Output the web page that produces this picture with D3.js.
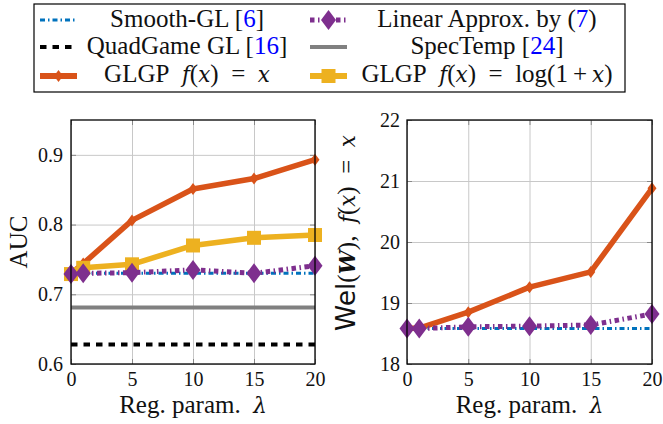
<!DOCTYPE html>
<html><head><meta charset="utf-8">
<script src="https://cdn.jsdelivr.net/npm/d3@7"></script>
<style>
html,body{margin:0;padding:0;background:#fff;}
svg{display:block;}
</style></head>
<body>
<svg id="chart" width="663" height="424"></svg>
<script>
// ---------- data ----------
const lambdas = [0, 1, 5, 10, 15, 20];
const xTicks = [0, 5, 10, 15, 20];
const aucTicks = [0.6, 0.7, 0.8, 0.9];
const welTicks = [18, 19, 20, 21, 22];

const aucSmoothGL     = [0.730, 0.730, 0.730, 0.730, 0.730, 0.730];
const aucLinearApprox = [0.729, 0.730, 0.731, 0.735, 0.730, 0.741];
const aucQuadGame     = [0.628, 0.628, 0.628, 0.628, 0.628, 0.628];
const aucSpecTemp     = [0.681, 0.681, 0.681, 0.681, 0.681, 0.681];
const aucGlgpLinear   = [0.730, 0.744, 0.806, 0.851, 0.866, 0.893];
const aucGlgpLog      = [0.729, 0.738, 0.743, 0.770, 0.781, 0.785];

const welSmoothGL     = [18.58, 18.58, 18.58, 18.58, 18.58, 18.58];
const welLinearApprox = [18.58, 18.58, 18.61, 18.62, 18.64, 18.82];
const welGlgpLinear   = [18.58, 18.59, 18.85, 19.26, 19.51, 20.88];

const C = {
  blue: "#0072BD", purple: "#7E2F8E", black: "#000000",
  gray: "#808080", orange: "#D95319", yellow: "#EDB120", link: "#0000FF"
};

const svg = d3.select("#chart");
const SERIF = '"Liberation Serif",serif';
const MATH = '"DejaVu Serif",serif';

function diamondPath(w, h) { return `M0,${-h}L${w},0L0,${h}L${-w},0Z`; }

// add text parts: [string, kind] kind: "" | "link" | "it" | "bi" | "sans"
function addParts(t, parts, size) {
  parts.forEach(([s, k]) => {
    const sp = t.append("tspan").text(s);
    if (k === "link") sp.attr("fill", C.link);
    if (k === "it") sp.style("font-family", MATH).style("font-style", "italic").attr("font-size", size * 0.86);
    if (k === "bi") sp.style("font-family", MATH).style("font-style", "italic").style("font-weight", "bold").attr("font-size", size * 0.86);
    if (k === "sans") sp.style("font-family", '"DejaVu Sans",sans-serif').attr("font-size", size * 1.06);
  });
}

function panel(opts) {
  const {x0, x1, y0, y1, yDomain, yTicks, yFmt, series} = opts;
  const x = d3.scaleLinear().domain([0, 20]).range([x0, x1]);
  const y = d3.scaleLinear().domain(yDomain).range([y1, y0]);
  const g = svg.append("g");
  const clean = a => a.select(".domain").remove();
  // grid
  g.append("g").attr("transform", `translate(0,${y1})`)
    .call(d3.axisBottom(x).tickValues(xTicks).tickSize(-(y1 - y0)).tickFormat(""))
    .call(clean).call(a => a.selectAll("line").attr("stroke", "#c8c8c8").attr("stroke-width", 1));
  g.append("g").attr("transform", `translate(${x0},0)`)
    .call(d3.axisLeft(y).tickValues(yTicks).tickSize(-(x1 - x0)).tickFormat(""))
    .call(clean).call(a => a.selectAll("line").attr("stroke", "#c8c8c8").attr("stroke-width", 1));
  // inner tick marks
  const tl = 5;
  const tk = a => a.selectAll("line").attr("stroke", "#888").attr("stroke-width", 1);
  g.append("g").attr("transform", `translate(0,${y1})`)
    .call(d3.axisBottom(x).tickValues(xTicks).tickSize(-tl).tickFormat("")).call(clean).call(tk);
  g.append("g").attr("transform", `translate(0,${y0})`)
    .call(d3.axisTop(x).tickValues(xTicks).tickSize(-tl).tickFormat("")).call(clean).call(tk);
  g.append("g").attr("transform", `translate(${x0},0)`)
    .call(d3.axisLeft(y).tickValues(yTicks).tickSize(-tl).tickFormat("")).call(clean).call(tk);
  g.append("g").attr("transform", `translate(${x1},0)`)
    .call(d3.axisRight(y).tickValues(yTicks).tickSize(-tl).tickFormat("")).call(clean).call(tk);
  // tick labels
  g.append("g").attr("transform", `translate(0,${y1})`)
    .call(d3.axisBottom(x).tickValues(xTicks).tickSize(0).tickPadding(8).tickFormat(d3.format("d")))
    .call(clean)
    .call(a => a.selectAll("text").style("font-family", SERIF).attr("font-size", 20).attr("fill", "#111"));
  g.append("g").attr("transform", `translate(${x0},0)`)
    .call(d3.axisLeft(y).tickValues(yTicks).tickSize(0).tickPadding(opts.yPad).tickFormat(yFmt))
    .call(clean)
    .call(a => a.selectAll("text").style("font-family", SERIF).attr("font-size", 20).attr("fill", "#111"));

  // series
  const line = d3.line().x((d, i) => x(lambdas[i])).y(d => y(d));
  series.forEach(s => {
    g.append("path").datum(s.values).attr("d", line)
      .attr("fill", "none").attr("stroke", s.color).attr("stroke-width", s.width)
      .attr("stroke-dasharray", s.dash || null).attr("stroke-linejoin", "round");
    if (s.marker) {
      g.selectAll(null).data(s.values).enter().append("path")
        .attr("transform", (d, i) => `translate(${x(lambdas[i])},${y(d)})`)
        .attr("d", s.marker).attr("fill", s.color);
    }
  });
  // frame
  g.append("rect").attr("x", x0).attr("y", y0).attr("width", x1 - x0).attr("height", y1 - y0)
    .attr("fill", "none").attr("stroke", "#000").attr("stroke-width", 1.3);
  // x title
  const xt = g.append("text").attr("x", (x0 + x1) / 2).attr("y", 413)
    .attr("text-anchor", "middle").style("font-family", SERIF).attr("font-size", 25).attr("fill", "#111");
  addParts(xt, [["Reg. param.\u2002", ""], ["λ", "it"]], 25);
  return {x, y, g};
}

const smallDiamond = diamondPath(4.5, 6);
const bigDiamond = diamondPath(7.5, 10);
const square = "M-7,-7H7V7H-7Z";

panel({
  x0: 71, x1: 315, y0: 120, y1: 364, yDomain: [0.6, 0.95], yTicks: aucTicks,
  yFmt: d3.format(".1f"), yPad: 8,
  series: [
    {values: aucSpecTemp, color: C.gray, width: 4},
    {values: aucQuadGame, color: C.black, width: 4, dash: "6.5,6"},
    {values: aucGlgpLinear, color: C.orange, width: 5.5, marker: smallDiamond},
    {values: aucGlgpLog, color: C.yellow, width: 5.5, marker: square},
    {values: aucSmoothGL, color: C.blue, width: 3, dash: "5,3,1.5,3"},
    {values: aucLinearApprox, color: C.purple, width: 5, dash: "4.5,3.5,1.5,3.5", marker: bigDiamond}
  ]
});
panel({
  x0: 407, x1: 652, y0: 120, y1: 364, yDomain: [18, 22], yTicks: welTicks,
  yFmt: d3.format("d"), yPad: 7,
  series: [
    {values: welGlgpLinear, color: C.orange, width: 5.5, marker: smallDiamond},
    {values: welSmoothGL, color: C.blue, width: 3, dash: "5,3,1.5,3"},
    {values: welLinearApprox, color: C.purple, width: 5, dash: "4.5,3.5,1.5,3.5", marker: bigDiamond}
  ]
});

// y titles
svg.append("text").attr("transform", "translate(27,242) rotate(-90)")
  .attr("text-anchor", "middle").style("font-family", SERIF).attr("font-size", 25).attr("fill", "#111")
  .text("AUC");
const yt2 = svg.append("text").attr("transform", "translate(355,233) rotate(-90)")
  .attr("text-anchor", "middle").style("font-family", SERIF).attr("font-size", 25).attr("fill", "#111");
addParts(yt2, [["Wel", "sans"], ["(", ""], ["W", "bi"], ["),\u2002", ""], ["f", "it"], ["(", ""], ["x", "it"],
  [")\u2002=\u2002", ""], ["x", "it"]], 25);

// ---------- legend ----------
const leg = svg.append("g");
leg.append("rect").attr("x", 34).attr("y", 4).attr("width", 591).attr("height", 88)
  .attr("fill", "#fff").attr("stroke", "#000").attr("stroke-width", 1.2);

const legendItems = [
  {col: 0, row: 0, color: C.blue, width: 3, dash: "5,3,1.5,3",
   parts: [["Smooth-GL [", ""], ["6", "link"], ["]", ""]]},
  {col: 1, row: 0, color: C.purple, width: 5, dash: "4.5,3.5,1.5,3.5", marker: bigDiamond,
   parts: [["Linear Approx. by (", ""], ["7", "link"], [")", ""]]},
  {col: 0, row: 1, color: C.black, width: 4, dash: "6.5,6",
   parts: [["QuadGame GL [", ""], ["16", "link"], ["]", ""]]},
  {col: 1, row: 1, color: C.gray, width: 4,
   parts: [["SpecTemp [", ""], ["24", "link"], ["]", ""]]},
  {col: 0, row: 2, color: C.orange, width: 6, marker: smallDiamond,
   parts: [["GLGP\u2002", ""], ["f", "it"], ["(", ""], ["x", "it"], [")\u2002=\u2002", ""], ["x", "it"]]},
  {col: 1, row: 2, color: C.yellow, width: 6, marker: square,
   parts: [["GLGP\u2002", ""], ["f", "it"], ["(", ""], ["x", "it"], [")\u2002=\u2002log(1\u2009+\u2009", ""], ["x", "it"], [")", ""]]}
];
const iconX = [40, 310], textX = [187, 487], rowIconY = [20, 47, 76], rowTextY = [27, 54, 82];
legendItems.forEach(it => {
  const ix = iconX[it.col], iy = rowIconY[it.row];
  leg.append("line").attr("x1", ix).attr("x2", ix + 37).attr("y1", iy).attr("y2", iy)
    .attr("stroke", it.color).attr("stroke-width", it.width).attr("stroke-dasharray", it.dash || null);
  if (it.marker) leg.append("path").attr("d", it.marker)
    .attr("transform", `translate(${ix + 18.5},${iy})`).attr("fill", it.color);
  const t = leg.append("text").attr("x", textX[it.col]).attr("y", rowTextY[it.row])
    .attr("text-anchor", "middle").style("font-family", SERIF).attr("font-size", 25).attr("fill", "#111");
  addParts(t, it.parts, 25);
});
</script>
</body></html>
